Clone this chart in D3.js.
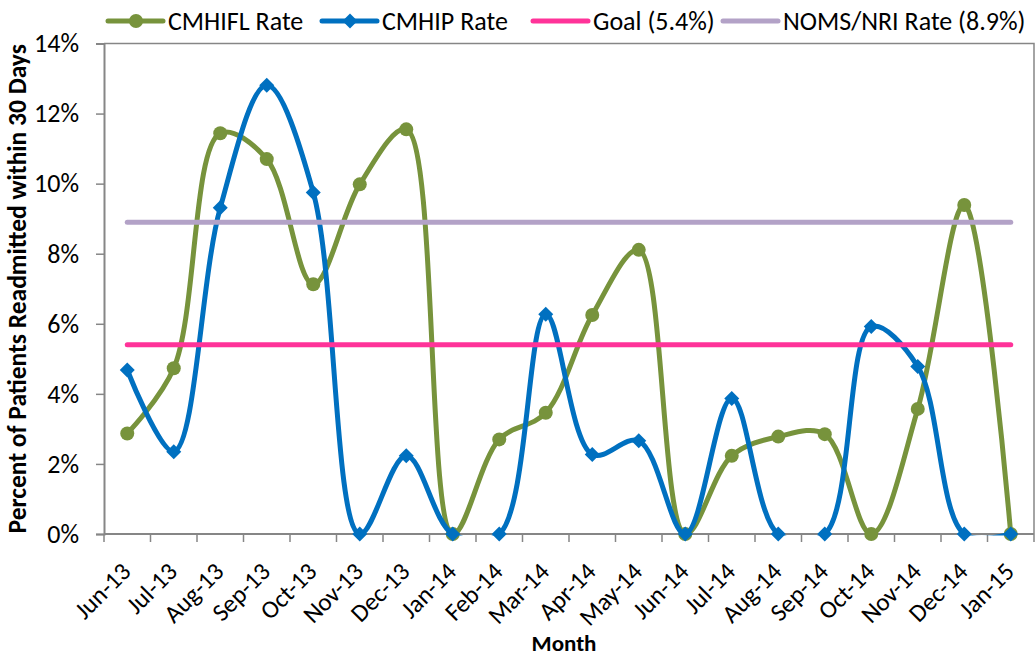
<!DOCTYPE html>
<html>
<head>
<meta charset="utf-8">
<script src="https://cdn.jsdelivr.net/npm/d3@7"></script>
<style>
  html, body { margin: 0; padding: 0; background: #fff; }
  svg { display: block; }
  text { font-family: Carlito, Calibri, "Open Sans", sans-serif; fill: #000; }
</style>
</head>
<body>
<svg id="chart" width="1035" height="656"></svg>
<script>
// ---- data ----
const months = ["Jun-13","Jul-13","Aug-13","Sep-13","Oct-13","Nov-13","Dec-13","Jan-14","Feb-14","Mar-14",
                "Apr-14","May-14","Jun-14","Jul-14","Aug-14","Sep-14","Oct-14","Nov-14","Dec-14","Jan-15"];
const cmhiflRate = [2.87,4.73,11.44,10.70,7.13,9.98,11.55,0,2.70,3.46,6.25,8.11,0,2.23,2.78,2.85,0,3.57,9.39,0];
const cmhipRate  = [4.68,2.35,9.31,12.81,9.75,0,2.23,0,0,6.27,2.27,2.66,0,3.87,0,0,5.92,4.78,0,0];
const goalRate = 5.4;
const nriRate = 8.9;
const yTicks = [0,2,4,6,8,10,12,14];
const seriesNames = ["CMHIFL Rate","CMHIP Rate","Goal (5.4%)","NOMS/NRI Rate (8.9%)"];

// ---- layout ----
const colors = ["#77933C","#0070C0","#FF3399","#B3A2C7"];
const plot = {left:104, right:1034, top:43.5, bottom:534};
const svg = d3.select("#chart");

const x = d3.scaleBand().domain(months).range([plot.left, plot.right]).padding(0);
const y = d3.scaleLinear().domain([0,14]).range([plot.bottom, plot.top]);
const cx = m => x(m) + x.bandwidth()/2;

svg.append("defs").append("clipPath").attr("id","clip")
  .append("rect").attr("x",plot.left).attr("y",plot.top)
  .attr("width",plot.right-plot.left).attr("height",plot.bottom-plot.top+1.5);

// plot border (top/right)
svg.append("path")
  .attr("d",`M${plot.left},${plot.top}H${plot.right}V${plot.bottom}`)
  .attr("fill","none").attr("stroke","#868686").attr("stroke-width",1.5);

// y axis
const yAxis = svg.append("g").attr("transform",`translate(${plot.left},0)`)
  .call(d3.axisLeft(y).tickValues(yTicks).tickFormat(d => d + "%").tickSize(8).tickPadding(17));
yAxis.select(".domain").attr("stroke","#868686").attr("stroke-width",2);
yAxis.selectAll(".tick line").attr("stroke","#868686").attr("stroke-width",1.5);
yAxis.selectAll(".tick text").attr("font-size",26).attr("font-family",null);

// x axis (ticks at band boundaries)
const xAxisG = svg.append("g");
xAxisG.append("line").attr("x1",plot.left).attr("x2",plot.right)
  .attr("y1",plot.bottom).attr("y2",plot.bottom)
  .attr("stroke","#868686").attr("stroke-width",2);
const boundaries = months.map(m => x(m)).concat([plot.right]);
xAxisG.selectAll("line.tk").data(boundaries).enter().append("line").attr("class","tk")
  .attr("x1",d=>d).attr("x2",d=>d).attr("y1",plot.bottom).attr("y2",plot.bottom+8)
  .attr("stroke","#868686").attr("stroke-width",1.5);
xAxisG.selectAll("text.lbl").data(months).enter().append("text").attr("class","lbl")
  .attr("transform", m => `translate(${cx(m)+5},${plot.bottom+39}) rotate(-45)`)
  .attr("text-anchor","end").attr("font-size",25).text(m => m);

// axis titles
svg.append("text").attr("x",564).attr("y",651).attr("text-anchor","middle")
  .attr("font-weight","bold").attr("font-size",23).text("Month");
svg.append("text").attr("transform",`translate(26,${(plot.top+plot.bottom)/2}) rotate(-90)`)
  .attr("text-anchor","middle").attr("font-weight","bold").attr("font-size",25.5)
  .text("Percent of Patients Readmitted within 30 Days");

// series
const lineGen = d3.line().x(d => cx(d.m)).y(d => y(d.v)).curve(d3.curveCatmullRom.alpha(0.5));
const diamond = "M0,-7.5L7.5,0L0,7.5L-7.5,0Z";
const linesG = svg.append("g");

function drawSeries(values, color, marker){
  const pts = months.map((m,i)=>({m, v: values[i]}));
  linesG.append("path").attr("clip-path","url(#clip)").attr("d", lineGen(pts))
    .attr("fill","none").attr("stroke",color).attr("stroke-width",5)
    .attr("stroke-linejoin","round").attr("stroke-linecap","round");
  const g = linesG.append("g");
  if (marker === "circle") {
    g.selectAll("circle").data(pts).enter().append("circle")
      .attr("cx",d=>cx(d.m)).attr("cy",d=>y(d.v)).attr("r",7).attr("fill",color);
  } else {
    g.selectAll("path").data(pts).enter().append("path")
      .attr("transform",d=>`translate(${cx(d.m)},${y(d.v)})`).attr("d",diamond).attr("fill",color);
  }
}
drawSeries(cmhiflRate, colors[0], "circle");
drawSeries(cmhipRate, colors[1], "diamond");

function drawFlat(val, color){
  linesG.append("line").attr("x1",cx(months[0])).attr("x2",cx(months[months.length-1]))
    .attr("y1",y(val)).attr("y2",y(val)).attr("stroke",color).attr("stroke-width",5)
    .attr("stroke-linecap","round");
}
drawFlat(goalRate, colors[2]);
drawFlat(nriRate, colors[3]);

// legend
const legendX = [108, 322, 533, 723];
const legendY = 21;
const lg = svg.append("g");
seriesNames.forEach((name,i)=>{
  const x0 = legendX[i];
  lg.append("line").attr("x1",x0).attr("x2",x0+55).attr("y1",legendY).attr("y2",legendY)
    .attr("stroke",colors[i]).attr("stroke-width",5).attr("stroke-linecap","round");
  if (i===0) lg.append("circle").attr("cx",x0+28).attr("cy",legendY).attr("r",7).attr("fill",colors[i]);
  if (i===1) lg.append("path").attr("transform",`translate(${x0+28},${legendY})`).attr("d",diamond).attr("fill",colors[i]);
  lg.append("text").attr("x",x0+60).attr("y",legendY).attr("dy","0.33em")
    .attr("font-size",26).text(name);
});
</script>
</body>
</html>
